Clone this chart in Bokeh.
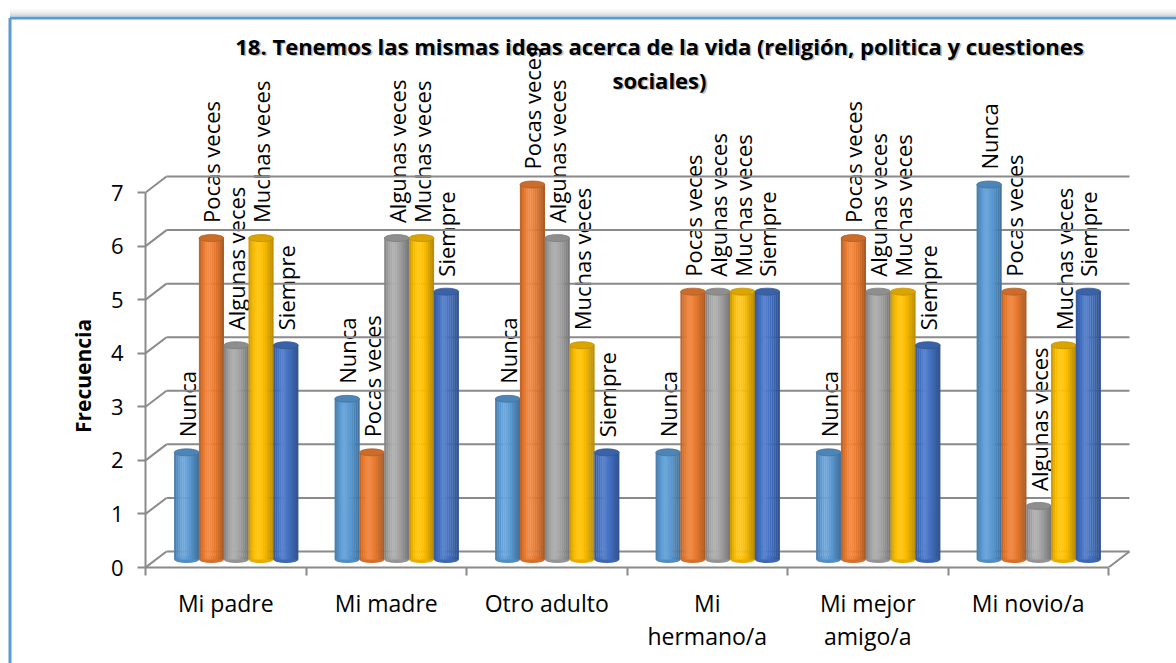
import math
from bokeh.plotting import figure
from bokeh.models import Range1d, FixedTicker, ColumnDataSource
from bokeh.core.properties import value
from bokeh.embed import file_html
from bokeh.resources import INLINE

# ---------------- data ----------------
categories = ["Mi padre", "Mi madre", "Otro adulto", "Mi hermano/a", "Mi mejor amigo/a", "Mi novio/a"]
category_labels = ["Mi padre", "Mi madre", "Otro adulto", "Mi\nhermano/a", "Mi mejor\namigo/a", "Mi novio/a"]
series_names = ["Nunca", "Pocas veces", "Algunas veces", "Muchas veces", "Siempre"]
nunca = [2, 3, 3, 2, 2, 7]
pocas_veces = [6, 2, 7, 5, 6, 5]
algunas_veces = [4, 6, 6, 5, 5, 1]
muchas_veces = [6, 6, 4, 5, 5, 4]
siempre = [4, 5, 2, 5, 4, 5]
y_ticks = [0, 1, 2, 3, 4, 5, 6, 7]
title_line1 = "18. Tenemos las mismas ideas acerca de la vida (religión, politica y cuestiones"
title_line2 = "sociales)"
y_axis_label = "Frecuencia"

series_values = [nunca, pocas_veces, algunas_veces, muchas_veces, siempre]
colors = ["#5B9BD5", "#ED7D31", "#A5A5A5", "#FFC000", "#4472C4"]

# ---------------- geometry (pixels) ----------------
PX_CAT = 160.5       # pixels per category
PX_UNIT = 53.57      # pixels per value unit
FRAME_LEFT = 145     # x of front y axis
FRAME_RIGHT = 1131
FRAME_BOTTOM = 567   # y of front value 0
FIG_W, FIG_H = 1176, 663
frame_w = FRAME_RIGHT - FRAME_LEFT
frame_h = FRAME_BOTTOM

def px_x(page_x):
    return (page_x - FRAME_LEFT) / PX_CAT

def px_y(page_y):
    return (FRAME_BOTTOM - page_y) / PX_UNIT

DXB = 21 / PX_CAT    # depth offset of back wall
DYB = 16 / PX_UNIT
DXM, DYM = DXB / 2, DYB / 2
BAR_W = 24.8 / PX_CAT
GRID = "#8A8A8A"
FONT = "Open Sans"

p = figure(width=FIG_W, height=FIG_H, output_backend="svg", toolbar_location=None,
           x_range=Range1d(0, frame_w / PX_CAT), y_range=Range1d(0, frame_h / PX_UNIT),
           min_border_left=FRAME_LEFT, min_border_right=FIG_W - FRAME_RIGHT,
           min_border_top=0, min_border_bottom=FIG_H - frame_h)
p.outline_line_color = None
p.xgrid.visible = False
p.ygrid.visible = False
p.background_fill_color = "white"
p.border_fill_color = "white"

# ---------------- axes ----------------
ya = p.yaxis[0]
ya.ticker = FixedTicker(ticks=y_ticks)
ya.bounds = (0, 7)
ya.axis_line_color = GRID
ya.axis_line_width = 2
ya.major_tick_line_color = GRID
ya.major_tick_line_width = 2
ya.major_tick_out = 8
ya.major_tick_in = 0
ya.minor_tick_line_color = None
ya.major_label_text_font = FONT
ya.major_label_text_font_size = "22px"
ya.major_label_text_color = "black"
ya.major_label_standoff = 14

# axis title, centred on the 0-7 span of the front axis (left of the frame)
p.text(x=[px_x(82)], y=[(y_ticks[0] + y_ticks[-1]) / 2 + DYM / 2], text=[y_axis_label],
       angle=math.pi / 2, text_align="center", text_baseline="middle",
       text_font=value(FONT), text_font_size="21px", text_font_style="bold",
       text_color="black", level="overlay")

xa = p.xaxis[0]
centers = [i + 0.5 for i in range(len(categories))]
xa.ticker = FixedTicker(ticks=centers, minor_ticks=list(range(len(categories) + 1)))
xa.major_label_overrides = {c: lbl for c, lbl in zip(centers, category_labels)}
xa.bounds = (0, len(categories))
xa.axis_line_color = GRID
xa.axis_line_width = 2
xa.major_tick_line_color = None
xa.major_tick_out = 0
xa.major_tick_in = 0
xa.minor_tick_line_color = GRID
xa.minor_tick_line_width = 2
xa.minor_tick_out = 8
xa.minor_tick_in = 0
xa.major_label_text_font = FONT
xa.major_label_text_font_size = "23px"
xa.major_label_text_color = "black"
xa.major_label_text_line_height = 1.05
xa.major_label_standoff = 11

# ---------------- title ----------------
tx = px_x(659)
for dx_, dy_, col, alpha in [(1.6, 1.6, "#404040", 0.35), (0, 0, "black", 1.0)]:
    p.text(x=[tx + dx_ / PX_CAT, tx + dx_ / PX_CAT],
           y=[px_y(45) - dy_ / PX_UNIT, px_y(79) - dy_ / PX_UNIT],
           text=[title_line1, title_line2], text_align="center", text_baseline="middle",
           text_font=value(FONT), text_font_size="22px", text_font_style="bold",
           text_color=col, text_alpha=alpha)

# ---------------- data labels (drawn first, gridlines over them as in the reference) ----------------
n_cat = len(categories)
n_ser = len(series_names)
def bar_x(i, j):
    return i + 0.5 + DXM + (j - (n_ser - 1) / 2) * BAR_W

for j, (name, vals) in enumerate(zip(series_names, series_values)):
    xs = [bar_x(i, j) for i in range(n_cat)]
    ys = [v + DYM + 15 / PX_UNIT for v in vals]
    p.text(x=xs, y=ys, text=[name] * n_cat, angle=math.pi / 2, text_align="left",
           text_baseline="middle", text_font=value(FONT), text_font_size="22px", text_color="black")

# ---------------- walls / gridlines ----------------
xb_end = n_cat + DXB
p.segment(x0=[DXB] * len(y_ticks), y0=[t + DYB for t in y_ticks],
          x1=[xb_end] * len(y_ticks), y1=[t + DYB for t in y_ticks], line_color=GRID, line_width=2)
p.segment(x0=[0] * len(y_ticks), y0=y_ticks, x1=[DXB] * len(y_ticks), y1=[t + DYB for t in y_ticks],
          line_color=GRID, line_width=2)
p.segment(x0=[n_cat], y0=[0], x1=[xb_end], y1=[DYB], line_color=GRID, line_width=2)

# ---------------- cylinders ----------------
def shade(hexc, f):
    r, g, b = int(hexc[1:3], 16), int(hexc[3:5], 16), int(hexc[5:7], 16)
    if f >= 1:
        k = min(1.0, (f - 1) * 2.2)
        r, g, b = [c + (255 - c) * k for c in (r, g, b)]
    else:
        r, g, b = [c * f for c in (r, g, b)]
    return "#%02x%02x%02x" % tuple(int(round(max(0, min(255, c)))) for c in (r, g, b))

profile = [0.82, 0.91, 0.98, 1.03, 1.05, 1.04, 1.01, 0.97, 0.92, 0.86, 0.80, 0.74]
ns = len(profile)
cap_h = 7 / PX_UNIT
for j, (vals, col) in enumerate(zip(series_values, colors)):
    xs = [bar_x(i, j) for i in range(n_cat)]
    src = ColumnDataSource(dict(x=xs, top=[v + DYM for v in vals], bottom=[DYM] * n_cat))
    # rounded bottom
    p.ellipse(x="x", y="bottom", width=BAR_W, height=cap_h, source=src,
              fill_color=shade(col, 0.90), line_color=None)
    for k, f in enumerate(profile):
        off = (k - (ns - 1) / 2) * BAR_W / ns
        p.vbar(x=[x + off for x in xs], top=src.data["top"], bottom=src.data["bottom"],
               width=BAR_W / ns * 1.15, fill_color=shade(col, f), line_color=None)
    # top cap
    p.ellipse(x="x", y="top", width=BAR_W, height=cap_h, source=src,
              fill_color=shade(col, 0.86), line_color=shade(col, 0.75), line_width=0.8)

# ---------------- chart area border (outside the frame) ----------------
BLUE = "#5B9BD5"
left_x = px_x(9.5)
top_y = px_y(17.5)
for k, a in enumerate([0.04, 0.07, 0.10, 0.14, 0.19, 0.25, 0.32]):
    yy = px_y(9 + k)
    p.segment(x0=[left_x], y0=[yy], x1=[px_x(1176)], y1=[yy], line_color="#808080",
              line_alpha=a, line_width=1, level="overlay")
p.segment(x0=[left_x, left_x], y0=[top_y, top_y], x1=[px_x(1176), left_x], y1=[top_y, px_y(663)],
          line_color=BLUE, line_width=3, level="overlay")

open("out.html", "w").write(file_html(p, INLINE))
